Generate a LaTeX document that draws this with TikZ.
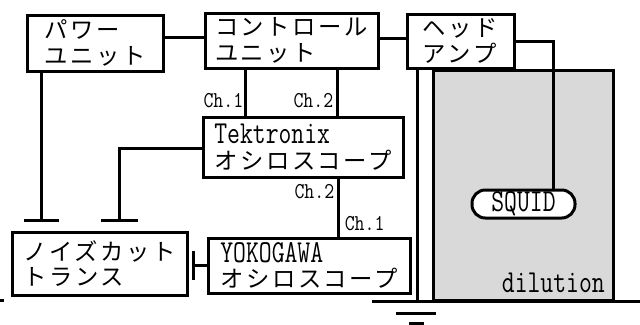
\documentclass[tikz,border=0pt]{standalone}
\usepackage{fontspec}
\usepackage{graphicx}
\newfontfamily\jp[LetterSpace=11]{Noto Sans CJK JP}
\usetikzlibrary{calc,arrows.meta}
\definecolor{dilgray}{RGB}{217,217,217}
\newcommand\latbig[1]{\scalebox{0.78}[1]{\ttfamily\fontsize{24}{24}\selectfont #1}}
\newcommand\latsmall[1]{\scalebox{0.85}[1]{\ttfamily\fontsize{17}{17}\selectfont #1}}
\tikzset{
  box/.style={draw, line width=2.25pt, fill=white, inner sep=0pt, align=left,
    font=\jp\fontsize{17.5}{19}\selectfont},
  wire/.style={line width=2.25pt},
  lbl/.style={inner sep=0pt},
  tbar/.style={wire, -{Bar[width=#1, line width=2.25pt]}},
}
\begin{document}
\begin{tikzpicture}[x=0.75pt,y=-0.75pt]
\useasboundingbox (0,0) rectangle (640,325);
% dilution
\node[draw, fill=dilgray, line width=2.25pt, minimum width=135pt, minimum height=172.5pt, inner sep=0pt] (dil) at (523,185) {};
% boxes
\node[box, minimum width=102pt, minimum height=42pt] (power) at (95,43) {パワー\\ユニット};
\node[box, minimum width=129.75pt, minimum height=41.25pt] (ctrl) at (291.5,40.5) {コントロール\\ユニット};
\node[box, minimum width=80.25pt, minimum height=40.5pt] (amp) at (460.5,41) {ヘッド\\アンプ};
\node[box, minimum width=150pt, minimum height=45pt] (tek) at (303,147) {\latbig{Tektronix}\\オシロスコープ};
\node[box, minimum width=131.25pt, minimum height=47.25pt] (noise) at (99.5,263.5) {ノイズカット\\トランス};
\node[box, minimum width=151.5pt, minimum height=41.25pt] (yoko) at (309,265.5) {\latbig{YOKOGAWA}\\オシロスコープ};
% wires
\draw[wire] ($(power.east)+(0,-6)$) -- ($(ctrl.west)+(0,-3.5)$);
\draw[wire] ($(ctrl.east)+(0,-2)$) -- ($(amp.west)+(0,-2.5)$);
\draw[wire] ($(ctrl.south west)+(42,0)$) coordinate (c1) -- (c1 |- tek.north);
\draw[wire] ($(ctrl.south west)+(134,0)$) coordinate (c2) -- (c2 |- tek.north);
\node[lbl, anchor=south east] (l1) at ($(c1 |- tek.north)+(-2,-7)$) {\latsmall{Ch.1}};
\node[lbl, anchor=south east] (l2) at ($(c2 |- tek.north)+(-4,-7)$) {\latsmall{Ch.2}};
\draw[wire] ($(tek.south west)+(137,0)$) coordinate (c3) -- (c3 |- yoko.north);
\node[lbl, anchor=north east] (l3) at ($(c3)+(-4,6)$) {\latsmall{Ch.2}};
\node[lbl, anchor=south west] (l4) at ($(c3 |- yoko.north)+(6,-5)$) {\latsmall{Ch.1}};
\draw[tbar=26pt] ($(power.south west)+(16,0)$) coordinate (c4) -- ($(c4 |- noise.north)+(0,-9)$);
\draw[tbar=27.75pt] ($(tek.west)+(0,1)$) -| ($(noise.north west)+(109,-9)$);
\draw[tbar=21.75pt] (yoko.west) -- ++(-15,0);
% squid
\node[draw, fill=white, line width=2.25pt, rounded corners=10pt, minimum width=77.25pt, minimum height=21pt, inner sep=0pt] (squid) at (523.5,204) {\latbig{SQUID}};
\node[lbl, anchor=base east] (dtext) at (605,292) {\latbig{dilution}};
\draw[wire] (amp.east) -| ($(squid.north)+(29.5,0)$);
% ground
\coordinate (g1) at (372,301.5);
\coordinate (g2) at (640,301.5);
\draw[wire] ($(amp.south west)+(12,0)$) coordinate (c5) -- (c5 |- g1);
\draw[wire] (g1) -- (g2);
\draw[wire] (396,313) -- (436,313);
\draw[wire] (409,323.5) -- (424,323.5);
\draw[wire] (0,300) -- (4,300);
\end{tikzpicture}
\end{document}
